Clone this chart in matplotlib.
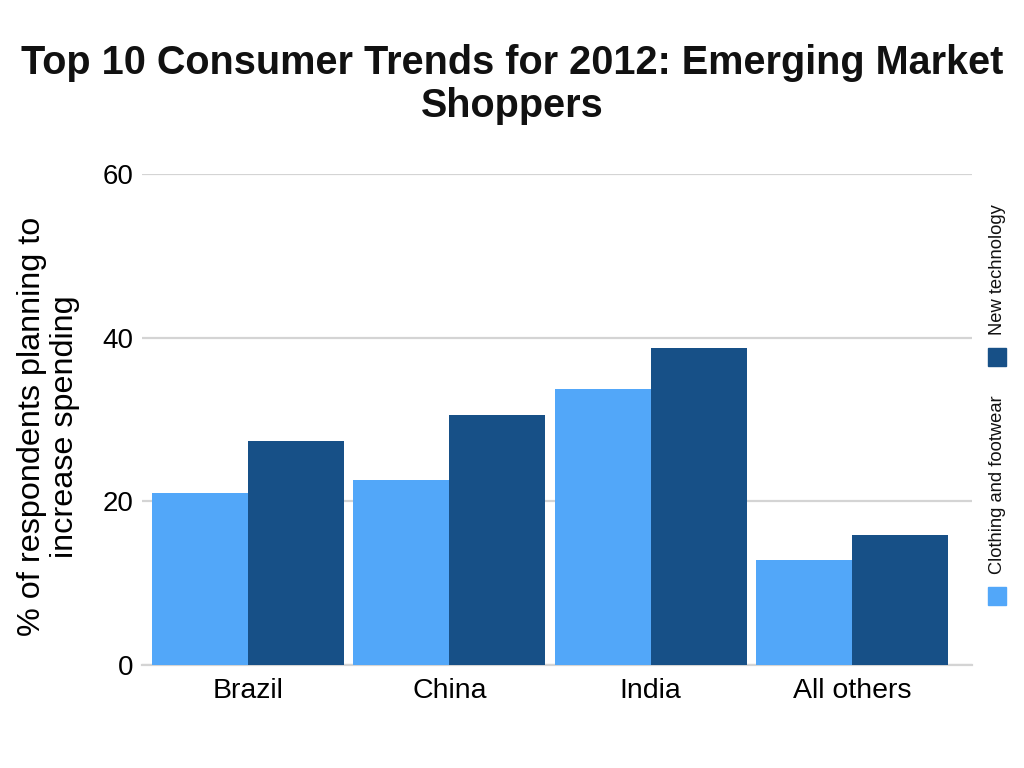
import numpy as np
import matplotlib
matplotlib.use("Agg")
import matplotlib.pyplot as plt
from matplotlib.patches import Rectangle

# --- data ---
categories = ["Brazil", "China", "India", "All others"]
clothing = [21.0, 22.6, 33.7, 12.8]
technology = [27.4, 30.6, 38.7, 15.9]
series_names = ["Clothing and footwear", "New technology"]
yticks = [0, 20, 40, 60]

LIGHT = "#52a7f9"
DARK = "#175087"
GRID = "#d4d4d4"

plt.rcParams.update({
    "font.family": ["Liberation Sans", "DejaVu Sans"],
    "text.color": "#111111",
})

fig = plt.figure(figsize=(10.24, 7.68), dpi=100)
ax = fig.add_axes([142 / 1024, 1 - 665 / 768, 830 / 1024, 491 / 768])

x = np.arange(len(categories))
w = 0.477
ax.bar(x - w / 2, clothing, width=w, color=LIGHT, label=series_names[0], zorder=3)
ax.bar(x + w / 2, technology, width=w, color=DARK, label=series_names[1], zorder=3)

ax.set_xlim(-0.527, len(categories) - 1 + 0.597)
ax.set_ylim(0, 60)
ax.set_yticks(yticks)
ax.set_xticks(x)
ax.set_xticklabels(categories, fontsize=20.5)
ax.tick_params(axis="y", length=0, pad=6, labelsize=20)
ax.tick_params(axis="x", length=0, pad=9)
ax.grid(axis="y", color=GRID, linewidth=1.6, zorder=0)
for side in ["top", "right", "left"]:
    ax.spines[side].set_visible(False)
ax.spines["bottom"].set_color(GRID)
ax.spines["bottom"].set_linewidth(1.6)

ax.set_ylabel("% of respondents planning to\nincrease spending", fontsize=23.3,
              linespacing=1.1)
ax.yaxis.set_label_coords(-0.075, 0.485)

fig.text(0.5, 1 - 44 / 768, "Top 10 Consumer Trends for 2012: Emerging Market\nShoppers",
         ha="center", va="top", fontsize=28.5, fontweight="bold", linespacing=1.16)

# vertical legend on the right edge
legend_items = [(series_names[1], DARK, 270, 348), (series_names[0], LIGHT, 485, 587)]
for name, col, ycen, sq_top in legend_items:
    fig.text(998 / 1024, 1 - ycen / 768, name, rotation=90, ha="center", va="center",
             fontsize=13.2)
    fig.patches.append(Rectangle((988 / 1024, 1 - (sq_top + 18) / 768), 18 / 1024, 18 / 768,
                                 transform=fig.transFigure, color=col))

fig.savefig("out.png", dpi=100)
